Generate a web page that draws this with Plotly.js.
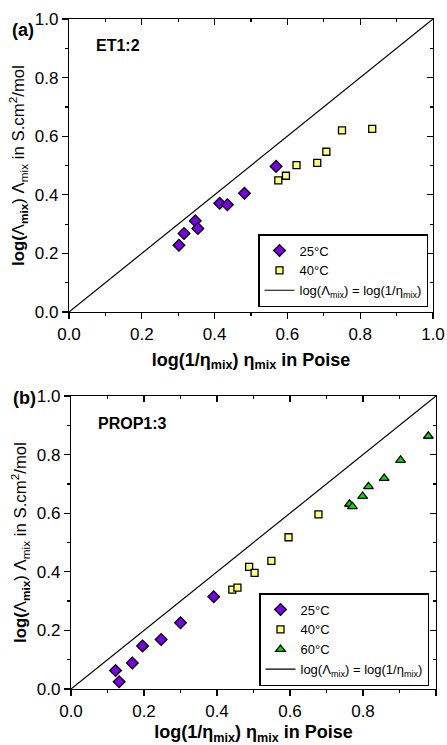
<!DOCTYPE html>
<html>
<head>
<meta charset="utf-8">
<script src="https://cdn.plot.ly/plotly-3.0.1.min.js"></script>
<style>html,body{margin:0;padding:0;background:#fff;}#chart{width:447px;height:745px;}</style>
</head>
<body>
<div id="chart"></div>
<script>
// Panel (a) ET1:2
const a25x = [0.302, 0.316, 0.347, 0.354, 0.414, 0.435, 0.482, 0.569];
const a25y = [0.228, 0.268, 0.311, 0.285, 0.371, 0.366, 0.405, 0.497];
const a40x = [0.575, 0.596, 0.625, 0.682, 0.707, 0.750, 0.833];
const a40y = [0.449, 0.465, 0.501, 0.509, 0.547, 0.620, 0.625];
// Panel (b) PROP1:3
const b25x = [0.122, 0.132, 0.168, 0.196, 0.247, 0.300, 0.391];
const b25y = [0.063, 0.025, 0.089, 0.147, 0.169, 0.226, 0.315];
const b40x = [0.442, 0.456, 0.488, 0.503, 0.549, 0.596, 0.678];
const b40y = [0.339, 0.346, 0.417, 0.396, 0.437, 0.518, 0.596];
const b60x = [0.763, 0.771, 0.799, 0.815, 0.858, 0.903, 0.979];
const b60y = [0.631, 0.623, 0.658, 0.691, 0.719, 0.781, 0.863];
// Reference line log(Λ) = log(1/η)
const refX = [0, 1];
const refY = [0, 1];
const tickVals = [0, 0.2, 0.4, 0.6, 0.8, 1.0];
const tickText = ['0.0', '0.2', '0.4', '0.6', '0.8', '1.0'];

const FONT = 'Liberation Sans, Arial, sans-serif';
const lineName = 'log(Λ<sub>mix</sub>) = log(1/η<sub>mix</sub>)';

function mk(x, y, name, sym, color, size, xa, ya, leg, rank) {
  return {x: x, y: y, name: name, type: 'scatter', mode: 'markers',
    xaxis: xa, yaxis: ya, legend: leg, legendrank: rank,
    marker: {symbol: sym, color: color, size: size, line: {color: '#000', width: 1.3}}};
}
function refLine(xa, ya, leg) {
  return {x: refX, y: refY, name: lineName, type: 'scatter', mode: 'lines',
    xaxis: xa, yaxis: ya, legend: leg, legendrank: 10,
    line: {color: '#000', width: 1.2}};
}
const violet = '#7A00E6', yellow = '#FFFF80', green = '#00E000';

const data = [
  refLine('x', 'y', 'legend'),
  mk(a25x, a25y, '25°C', 'diamond', violet, 9, 'x', 'y', 'legend', 1),
  mk(a40x, a40y, '40°C', 'square', yellow, 7, 'x', 'y', 'legend', 2),
  refLine('x2', 'y2', 'legend2'),
  mk(b25x, b25y, '25°C', 'diamond', violet, 9, 'x2', 'y2', 'legend2', 1),
  mk(b40x, b40y, '40°C', 'square', yellow, 7, 'x2', 'y2', 'legend2', 2),
  mk(b60x, b60y, '60°C', 'triangle-up', green, 8.5, 'x2', 'y2', 'legend2', 3),
  {x: [], y: [], xaxis: 'x3', yaxis: 'y3', type: 'scatter', showlegend: false},
  {x: [], y: [], xaxis: 'x4', yaxis: 'y4', type: 'scatter', showlegend: false}
];

const xTitle = '<b>log(1/η<sub>mix</sub>) η<sub>mix</sub> in Poise</b>';
const yTitle = '<b>log(</b>Λ<sub><b>mix</b></sub>) Λ<sub>mix</sub> in S.cm<sup>2</sup>/mol';

function mainAxis(domain, anchor, title, size, standoff) {
  return {domain: domain, anchor: anchor, range: [0, 1], showgrid: false, zeroline: false,
    showline: true, linecolor: '#000', linewidth: 1.2,
    ticks: 'outside', ticklen: 6, tickwidth: 1.2, tickcolor: '#000',
    tickvals: tickVals, ticktext: tickText,
    tickfont: {family: FONT, size: 17, color: '#000'},
    minor: {dtick: 0.1, ticks: 'outside', ticklen: 3, tickwidth: 1.2, tickcolor: '#000'},
    title: {text: title, font: {family: FONT, size: size, color: '#000'}, standoff: standoff}};
}
function mirrorAxis(over, side, anchor) {
  return {overlaying: over, side: side, anchor: anchor, range: [0, 1], showgrid: false, zeroline: false,
    showline: true, linecolor: '#000', linewidth: 1.2,
    ticks: 'inside', ticklen: 6, tickwidth: 1.2, tickcolor: '#000',
    tickvals: tickVals, showticklabels: false,
    minor: {dtick: 0.1, ticks: 'inside', ticklen: 3, tickwidth: 1.2, tickcolor: '#000'}};
}

const dxa = [69/447, 433/447], dya = [1-312/745, 1-19/745];
const dxb = [71/447, 436/447], dyb = [1-689/745, 1-396/745];

function legendAt(x, y) {
  return {x: x, y: y, xanchor: 'left', yanchor: 'bottom', xref: 'paper', yref: 'paper',
    bgcolor: '#fff', bordercolor: '#000', borderwidth: 1.5, tracegroupgap: 0,
    itemwidth: 30, traceorder: 'normal',
    font: {family: FONT, size: 13, color: '#000'}};
}

const layout = {
  width: 447, height: 745, margin: {l: 0, r: 0, t: 0, b: 0},
  paper_bgcolor: '#fff', plot_bgcolor: '#fff',
  font: {family: FONT, color: '#000'},
  xaxis: mainAxis(dxa, 'y', xTitle, 18, 10),
  yaxis: mainAxis(dya, 'x', yTitle, 16.8, 5),
  xaxis2: mainAxis(dxb, 'y2', xTitle, 18, 10),
  yaxis2: mainAxis(dyb, 'x2', yTitle, 16.8, 5),
  xaxis3: Object.assign(mirrorAxis('x', 'top', 'y'), {domain: dxa}),
  yaxis3: Object.assign(mirrorAxis('y', 'right', 'x'), {domain: dya}),
  xaxis4: Object.assign(mirrorAxis('x2', 'top', 'y2'), {domain: dxb}),
  yaxis4: Object.assign(mirrorAxis('y2', 'right', 'x2'), {domain: dyb}),
  legend: legendAt(258/447, 1-307/745),
  legend2: legendAt(259/447, 1-686/745),
  showlegend: true,
  annotations: [
    {text: '<b>(a)</b>', xref: 'paper', yref: 'paper', x: 10/447, y: 1-30/745, xanchor: 'left', yanchor: 'middle', showarrow: false, font: {family: FONT, size: 18, color: '#000'}},
    {text: '<b>(b)</b>', xref: 'paper', yref: 'paper', x: 11/447, y: 1-398/745, xanchor: 'left', yanchor: 'middle', showarrow: false, font: {family: FONT, size: 18, color: '#000'}},
    {text: '<b>ET1:2</b>', xref: 'paper', yref: 'paper', x: 94/447, y: 1-45.5/745, xanchor: 'left', yanchor: 'middle', showarrow: false, font: {family: FONT, size: 16, color: '#000'}},
    {text: '<b>PROP1:3</b>', xref: 'paper', yref: 'paper', x: 96/447, y: 1-423/745, xanchor: 'left', yanchor: 'middle', showarrow: false, font: {family: FONT, size: 16, color: '#000'}}
  ]
};

Plotly.newPlot('chart', data, layout, {staticPlot: true, displayModeBar: false});
</script>
</body>
</html>
